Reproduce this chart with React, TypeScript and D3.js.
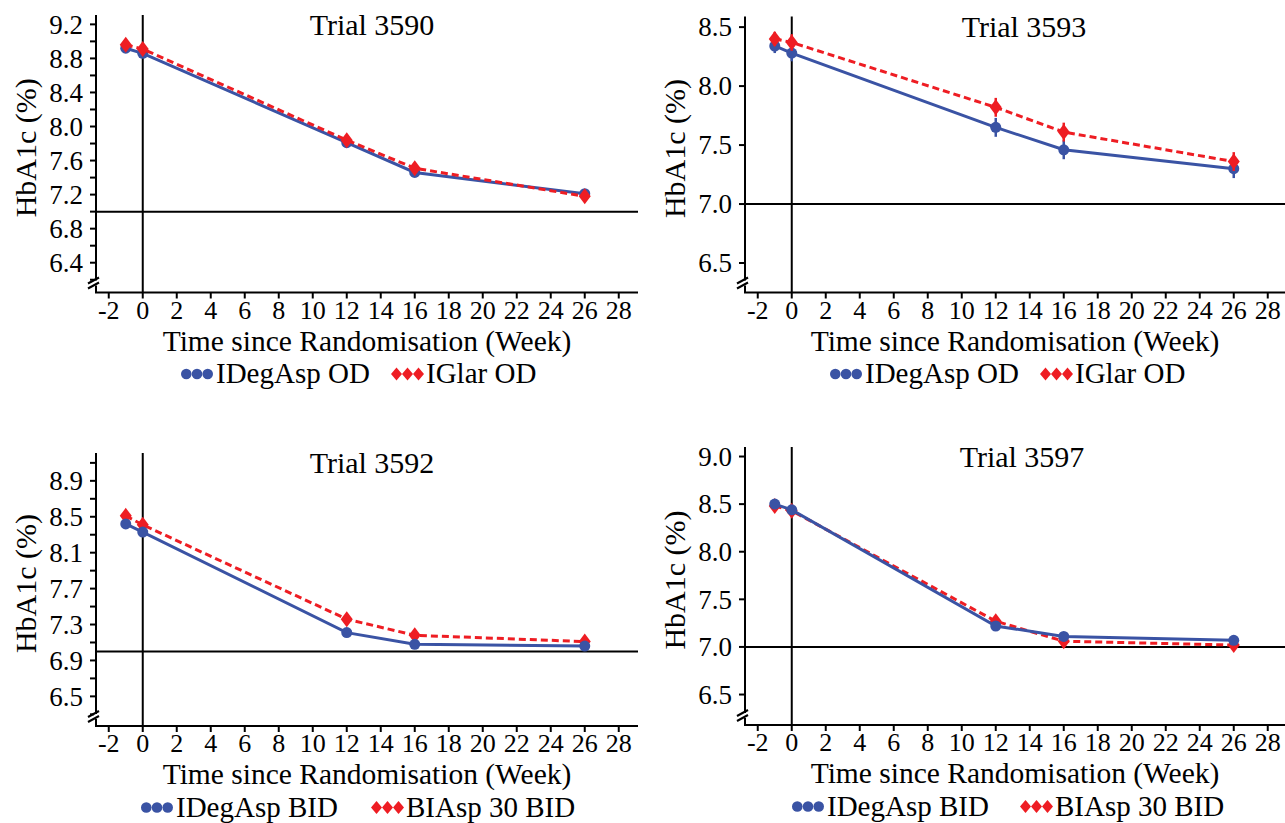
import React from 'react';
import * as d3 from 'd3';

// ---------- data ----------
const weeks = [-1, 0, 12, 16, 26];
const xTickValues = [-2, 0, 2, 4, 6, 8, 10, 12, 14, 16, 18, 20, 22, 24, 26, 28];

const trial3590IDegAspOD = [8.92, 8.86, 7.81, 7.46, 7.21];
const trial3590IGlarOD = [8.96, 8.91, 7.84, 7.51, 7.18];
const trial3590ErrIDegAsp = [0.04, 0.04, 0.04, 0.04, 0.04];
const trial3590ErrIGlar = [0.04, 0.04, 0.04, 0.04, 0.04];

const trial3593IDegAspOD = [8.34, 8.28, 7.65, 7.46, 7.3];
const trial3593IGlarOD = [8.4, 8.37, 7.82, 7.61, 7.36];
const trial3593ErrIDegAsp = [0.06, 0.07, 0.08, 0.08, 0.08];
const trial3593ErrIGlar = [0.06, 0.07, 0.08, 0.08, 0.08];

const trial3592IDegAspBID = [8.42, 8.33, 7.21, 7.08, 7.06];
const trial3592BIAsp30BID = [8.51, 8.41, 7.36, 7.18, 7.11];
const trial3592ErrIDegAsp = [0.05, 0.05, 0.05, 0.05, 0.05];
const trial3592ErrBIAsp = [0.05, 0.05, 0.05, 0.05, 0.05];

const trial3597IDegAspBID = [8.5, 8.44, 7.22, 7.11, 7.07];
const trial3597BIAsp30BID = [8.48, 8.43, 7.27, 7.06, 7.02];
const trial3597ErrIDegAsp = [0.03, 0.03, 0.03, 0.03, 0.03];
const trial3597ErrBIAsp = [0.03, 0.03, 0.03, 0.03, 0.03];

const ticks3590 = [6.2, 6.4, 6.6, 6.8, 7.0, 7.2, 7.4, 7.6, 7.8, 8.0, 8.2, 8.4, 8.6, 8.8, 9.0, 9.2];
const labels3590 = [6.4, 6.8, 7.2, 7.6, 8.0, 8.4, 8.8, 9.2];
const ticks3593 = [6.5, 7.0, 7.5, 8.0, 8.5];
const labels3593 = [6.5, 7.0, 7.5, 8.0, 8.5];
const ticks3592 = [6.3, 6.5, 6.7, 6.9, 7.1, 7.3, 7.5, 7.7, 7.9, 8.1, 8.3, 8.5, 8.7, 8.9, 9.1];
const labels3592 = [6.5, 6.9, 7.3, 7.7, 8.1, 8.5, 8.9];
const ticks3597 = [6.5, 7.0, 7.5, 8.0, 8.5, 9.0];
const labels3597 = [6.5, 7.0, 7.5, 8.0, 8.5, 9.0];

const targetHbA1c = 7.0;

// ---------- style ----------
const BLUE = '#3A53A4';
const RED = '#EE1D23';
const FONT = '"Liberation Serif", "Times New Roman", serif';

type Panel = {
  title: string;
  names: [string, string];
  blue: number[];
  red: number[];
  blueErr: number[];
  redErr: number[];
  yDomain: [number, number];
  yTicks: number[];
  yLabels: number[];
  decimals: number;
  left: number;
  right: number;
  top: number;
  bottom: number;
  titleX: number;
  legendX: [number, number];
  redFirst: boolean;
};

const panels: Panel[] = [
  {
    title: 'Trial 3590', names: ['IDegAsp OD', 'IGlar OD'],
    blue: trial3590IDegAspOD, red: trial3590IGlarOD, blueErr: trial3590ErrIDegAsp, redErr: trial3590ErrIGlar,
    yDomain: [6.05, 9.31], yTicks: ticks3590, yLabels: labels3590, decimals: 1,
    left: 96, right: 638, top: 15, bottom: 292.5, titleX: 372, legendX: [181, 391], redFirst: false,
  },
  {
    title: 'Trial 3593', names: ['IDegAsp OD', 'IGlar OD'],
    blue: trial3593IDegAspOD, red: trial3593IGlarOD, blueErr: trial3593ErrIDegAsp, redErr: trial3593ErrIGlar,
    yDomain: [6.25, 8.59], yTicks: ticks3593, yLabels: labels3593, decimals: 1,
    left: 745, right: 1285, top: 16.5, bottom: 292.5, titleX: 1024, legendX: [830, 1040], redFirst: false,
  },
  {
    title: 'Trial 3592', names: ['IDegAsp BID', 'BIAsp 30 BID'],
    blue: trial3592IDegAspBID, red: trial3592BIAsp30BID, blueErr: trial3592ErrIDegAsp, redErr: trial3592ErrBIAsp,
    yDomain: [6.17, 9.21], yTicks: ticks3592, yLabels: labels3592, decimals: 1,
    left: 96, right: 638, top: 453, bottom: 726, titleX: 372, legendX: [141, 371], redFirst: true,
  },
  {
    title: 'Trial 3597', names: ['IDegAsp BID', 'BIAsp 30 BID'],
    blue: trial3597IDegAspBID, red: trial3597BIAsp30BID, blueErr: trial3597ErrIDegAsp, redErr: trial3597ErrBIAsp,
    yDomain: [6.18, 9.1], yTicks: ticks3597, yLabels: labels3597, decimals: 1,
    left: 745, right: 1285, top: 447, bottom: 725, titleX: 1022, legendX: [792, 1020], redFirst: true,
  },
];

const diamondPath = (cx: number, cy: number, hw: number, hh: number) =>
  `M${cx},${cy - hh}L${cx + hw},${cy}L${cx},${cy + hh}L${cx - hw},${cy}Z`;

function Series({ values, errs, x, y, color, kind }: any) {
  const line = d3
    .line<number>()
    .x((_, i) => x(weeks[i]))
    .y((d) => y(d));
  return (
    <g>
      <path
        d={line(values) || ''}
        fill="none"
        stroke={color}
        strokeWidth={3}
        strokeDasharray={kind === 'diamond' ? '7,4' : undefined}
      />
      {values.map((v: number, i: number) => (
        <line
          key={'e' + i}
          x1={x(weeks[i])}
          x2={x(weeks[i])}
          y1={y(v - errs[i])}
          y2={y(v + errs[i])}
          stroke={color}
          strokeWidth={2.5}
        />
      ))}
      {values.map((v: number, i: number) =>
        kind === 'circle' ? (
          <circle key={'m' + i} cx={x(weeks[i])} cy={y(v)} r={5.5} fill={color} />
        ) : (
          <path key={'m' + i} d={diamondPath(x(weeks[i]), y(v), 6, 8)} fill={color} />
        )
      )}
    </g>
  );
}

function PanelView({ p }: { p: Panel }) {
  const x = d3.scaleLinear().domain([-2.75, (p.right - p.left) / 17 - 2.75]).range([p.left, p.right]);
  const y = d3.scaleLinear().domain(p.yDomain).range([p.bottom, p.top]);
  const fmt = d3.format(`.${p.decimals}f`);
  const legY = p.bottom + 90.5;
  const blueSeries = (
    <Series key="b" values={p.blue} errs={p.blueErr} x={x} y={y} color={BLUE} kind="circle" />
  );
  const redSeries = (
    <Series key="r" values={p.red} errs={p.redErr} x={x} y={y} color={RED} kind="diamond" />
  );
  const yLabelCenter = (p.top + p.bottom) / 2 - 6;
  const brk = [p.bottom - 12, p.bottom - 7];
  return (
    <g fontFamily={FONT} fill="#000">
      {/* reference lines */}
      <line x1={p.left} x2={p.right} y1={y(targetHbA1c)} y2={y(targetHbA1c)} stroke="#000" strokeWidth={2} />
      <line x1={x(0)} x2={x(0)} y1={p.top} y2={p.bottom} stroke="#000" strokeWidth={2} />
      {/* axes */}
      <line x1={p.left} x2={p.left} y1={p.top} y2={p.bottom} stroke="#000" strokeWidth={2} />
      <line x1={p.left - 1} x2={p.right} y1={p.bottom} y2={p.bottom} stroke="#000" strokeWidth={2} />
      {p.yTicks.map((t) => (
        <line key={'yt' + t} x1={p.left - 6} x2={p.left} y1={y(t)} y2={y(t)} stroke="#000" strokeWidth={2} />
      ))}
      {p.yLabels.map((t) => (
        <text key={'yl' + t} x={p.left - 13} y={y(t)} dy="0.34em" textAnchor="end" fontSize={27}>
          {fmt(t)}
        </text>
      ))}
      {xTickValues.map((t) => (
        <line key={'xt' + t} x1={x(t)} x2={x(t)} y1={p.bottom} y2={p.bottom + 6} stroke="#000" strokeWidth={2} />
      ))}
      {xTickValues.map((t) => (
        <text key={'xl' + t} x={x(t)} y={p.bottom + 26} textAnchor="middle" fontSize={26}>
          {t}
        </text>
      ))}
      {/* axis break */}
      <rect x={p.left - 2} y={brk[0]} width={4} height={brk[1] - brk[0]} fill="#fff" />
      {brk.map((b) => (
        <line key={'br' + b} x1={p.left - 8} y1={b + 3} x2={p.left + 3} y2={b - 3} stroke="#000" strokeWidth={2} />
      ))}
      {/* titles */}
      <text x={p.titleX} y={p.top + 20} textAnchor="middle" fontSize={30}>
        {p.title}
      </text>
      <text
        transform={`translate(${p.left - 60},${yLabelCenter}) rotate(-90)`}
        textAnchor="middle"
        fontSize={30}
      >
        HbA1c (%)
      </text>
      <text x={(p.left + p.right) / 2} y={p.bottom + 58} textAnchor="middle" fontSize={29.5}>
        Time since Randomisation (Week)
      </text>
      {/* series */}
      {p.redFirst ? [redSeries, blueSeries] : [blueSeries, redSeries]}
      {/* legend */}
      <g>
        {[0, 1, 2].map((k) => (
          <circle key={'lc' + k} cx={p.legendX[0] + 5.3 + k * 10.7} cy={legY - 9} r={5.3} fill={BLUE} />
        ))}
        <text x={p.legendX[0] + 35} y={legY} fontSize={29}>
          {p.names[0]}
        </text>
        {[0, 1, 2].map((k) => (
          <path key={'ld' + k} d={diamondPath(p.legendX[1] + 5.5 + k * 11, legY - 9, 5.5, 6.5)} fill={RED} />
        ))}
        <text x={p.legendX[1] + 35} y={legY} fontSize={29}>
          {p.names[1]}
        </text>
      </g>
    </g>
  );
}

export default function App() {
  return (
    <svg
      width={1285}
      height={823}
      style={{ position: 'absolute', left: 0, top: 0, background: '#fff' }}
    >
      <rect width={1285} height={823} fill="#fff" />
      {panels.map((p) => (
        <PanelView key={p.title} p={p} />
      ))}
    </svg>
  );
}
